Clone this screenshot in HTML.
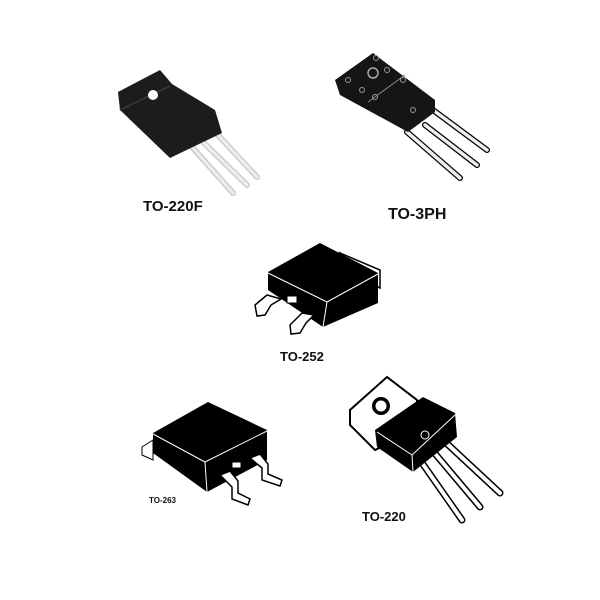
<!DOCTYPE html><html><head><style>body{margin:0;background:#fff}svg{display:block}text{font-family:"Liberation Sans",sans-serif;font-weight:bold;fill:#111}</style></head><body>
<svg width="600" height="600" viewBox="0 0 600 600">
<rect width="600" height="600" fill="#fff"/>
<!-- TO-220F -->
<g stroke-linecap="round">
<line x1="192" y1="147" x2="233" y2="193" stroke="#ccc" stroke-width="6"/>
<line x1="203" y1="142" x2="247" y2="185" stroke="#ccc" stroke-width="6"/>
<line x1="215" y1="132" x2="257" y2="177" stroke="#ccc" stroke-width="6"/>
<line x1="192" y1="147" x2="233" y2="193" stroke="#eee" stroke-width="3"/>
<line x1="203" y1="142" x2="247" y2="185" stroke="#eee" stroke-width="3"/>
<line x1="215" y1="132" x2="257" y2="177" stroke="#eee" stroke-width="3"/>
</g>
<polygon points="118,92 160,70 172,84 215,110 222,133 170,158 120,110" fill="#1c1c1c"/>
<line x1="120" y1="110" x2="170" y2="86" stroke="#333" stroke-width="2"/>
<circle cx="153" cy="95" r="5" fill="#fff"/>
<text x="143" y="211" font-size="15">TO-220F</text>
<!-- TO-3PH -->
<g stroke-linecap="round">
<line x1="433" y1="110" x2="487" y2="150" stroke="#000" stroke-width="6"/>
<line x1="425" y1="125" x2="477" y2="165" stroke="#000" stroke-width="6"/>
<line x1="407" y1="132" x2="460" y2="178" stroke="#000" stroke-width="6"/>
<line x1="433" y1="110" x2="487" y2="150" stroke="#eee" stroke-width="3.5"/>
<line x1="425" y1="125" x2="477" y2="165" stroke="#eee" stroke-width="3.5"/>
<line x1="407" y1="132" x2="460" y2="178" stroke="#eee" stroke-width="3.5"/>
</g>
<polygon points="335,80 373,53 435,100 435,112 408,132 340,95" fill="#151515"/>
<line x1="368" y1="102" x2="405" y2="75" stroke="#888" stroke-width="1"/>
<circle cx="373" cy="73" r="5" fill="none" stroke="#aaa" stroke-width="1.5"/>
<g fill="none" stroke="#999" stroke-width="1"><circle cx="348" cy="80" r="2.5"/><circle cx="362" cy="90" r="2.5"/><circle cx="387" cy="70" r="2.5"/><circle cx="376" cy="58" r="2.5"/><circle cx="403" cy="80" r="2.5"/><circle cx="375" cy="97" r="2.5"/><circle cx="413" cy="110" r="2.5"/></g>
<text x="388" y="219" font-size="16">TO-3PH</text>
<!-- TO-252 -->
<polygon points="340,253 380,270 380,288 350,270" fill="#fff" stroke="#000" stroke-width="1.5"/>
<polygon points="268,272 320,243 378,273 378,303 323,327 268,290" fill="#000"/>
<polyline points="268,273 327,302 378,274" fill="none" stroke="#fff" stroke-width="1"/>
<line x1="327" y1="302" x2="323" y2="327" stroke="#fff" stroke-width="1"/>
<path d="M255,305 l12,-10 l14,4 l-10,6 l-6,10 l-8,1 z" fill="#fff" stroke="#000" stroke-width="1.5"/>
<path d="M290,325 l12,-12 l12,2 l-8,8 l-6,10 l-9,1 z" fill="#fff" stroke="#000" stroke-width="1.5"/>
<rect x="287" y="296" width="10" height="7" fill="#fff" stroke="#000"/>
<text x="280" y="361" font-size="13">TO-252</text>
<!-- TO-263 -->
<polygon points="142,447 153,440 153,460 142,455" fill="#fff" stroke="#000"/>
<polygon points="153,433 208,402 267,430 267,460 207,492 153,453" fill="#000"/>
<polyline points="153,434 205,462 267,431" fill="none" stroke="#fff" stroke-width="1"/>
<line x1="205" y1="462" x2="207" y2="492" stroke="#fff"/>
<path d="M220,475 l10,-4 l8,10 l0,12 l12,6 l-2,6 l-16,-6 l0,-12 z" fill="#fff" stroke="#000" stroke-width="1.5"/>
<path d="M250,458 l10,-4 l8,10 l0,10 l14,6 l-2,6 l-18,-6 l0,-12 z" fill="#fff" stroke="#000" stroke-width="1.5"/>
<rect x="232" y="462" width="9" height="6" fill="#fff" stroke="#000"/>
<text x="149" y="503" font-size="8">TO-263</text>
<!-- TO-220 -->
<g stroke-linecap="round">
<line x1="443" y1="440" x2="500" y2="493" stroke="#000" stroke-width="7"/>
<line x1="432" y1="450" x2="480" y2="507" stroke="#000" stroke-width="7"/>
<line x1="420" y1="460" x2="462" y2="520" stroke="#000" stroke-width="7"/>
<line x1="443" y1="440" x2="500" y2="493" stroke="#fff" stroke-width="4"/>
<line x1="432" y1="450" x2="480" y2="507" stroke="#fff" stroke-width="4"/>
<line x1="420" y1="460" x2="462" y2="520" stroke="#fff" stroke-width="4"/>
</g>
<polygon points="350,410 387,377 417,400 417,430 375,450 350,425" fill="#fff" stroke="#000" stroke-width="2"/>
<circle cx="381" cy="406" r="9" fill="#000"/><circle cx="381" cy="406" r="5.5" fill="#fff"/>
<polygon points="375,430 423,397 455,413 457,437 413,472 377,447" fill="#000"/>
<line x1="377" y1="432" x2="412" y2="455" stroke="#fff"/><line x1="412" y1="455" x2="413" y2="472" stroke="#fff"/>
<line x1="412" y1="455" x2="455" y2="415" stroke="#fff"/>
<circle cx="425" cy="435" r="4" fill="none" stroke="#fff"/>
<text x="362" y="521" font-size="13">TO-220</text>
</svg></body></html>
